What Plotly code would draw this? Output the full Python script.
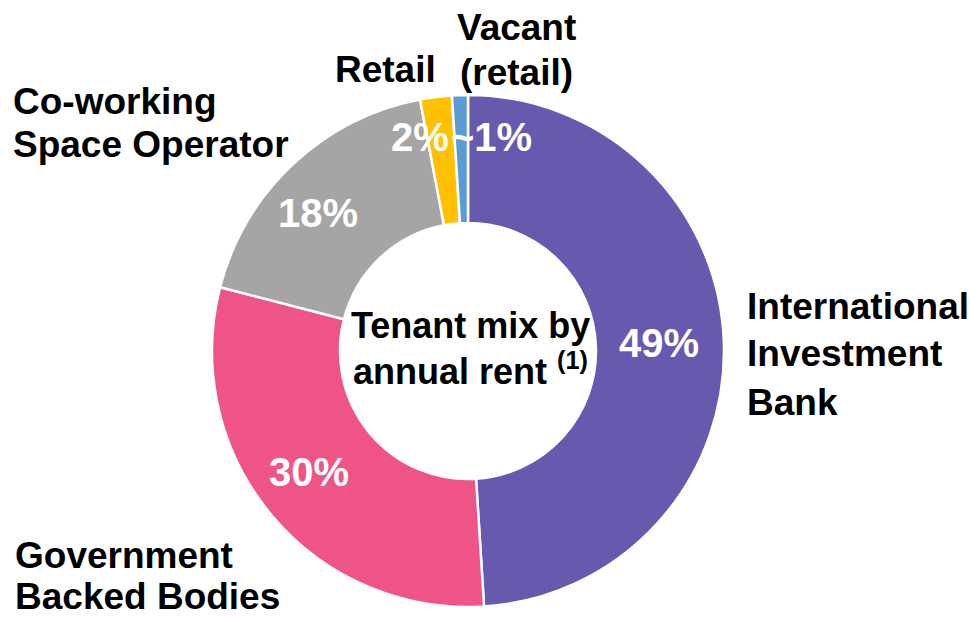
import plotly.graph_objects as go

W, H = 970, 617

tenants = ["International Investment Bank", "Government Backed Bodies",
           "Co-working Space Operator", "Retail", "Vacant (retail)"]
shares = [49, 30, 18, 2, 1]
pct_labels = ["49%", "30%", "18%", "2%", "~1%"]
colors = ["#6659AE", "#EF5486", "#A5A5A5", "#FFC000", "#5B9BD5"]

outer_labels = [["International", "Investment", "Bank"], ["Government", "Backed Bodies"],
                ["Co-working", "Space Operator"], ["Retail"], ["Vacant", "(retail)"]]
center_label = ["Tenant mix by", "annual rent <sup>(1)</sup>"]

fig = go.Figure(go.Pie(
    labels=tenants, values=shares, sort=False, direction="clockwise", rotation=0,
    hole=0.5, textinfo="none", hoverinfo="label+percent",
    marker=dict(colors=colors, line=dict(color="white", width=2.5)),
    domain=dict(x=[212 / W, 724 / W], y=[1 - 607 / H, 1 - 95 / H]),
    showlegend=False,
))


def px_ann(text, x, y, size, color="black", xanchor="center"):
    fig.add_annotation(text=text, x=x / W, y=1 - y / H, xref="paper", yref="paper",
                       xanchor=xanchor, yanchor="middle", showarrow=False,
                       font=dict(family="Liberation Sans, Arial", size=size, color=color))


# percentage labels on the ring
pct_pos = [(659, 343), (309, 472), (318, 213), (420, 137), (491, 137)]
for t, (x, y) in zip(pct_labels, pct_pos):
    px_ann(f"<b>{t}</b>", x, y, 40, color="white")

# outer labels, one annotation per line: (x, first line y, line gap, anchor)
lab_pos = [(745, 306, 48, "left"), (13, 555, 41, "left"), (11, 102, 42, "left"),
           (385, 70, 0, "center"), (516, 27, 45, "center")]
for lines, (x, y, gap, a) in zip(outer_labels, lab_pos):
    for i, t in enumerate(lines):
        px_ann(f"<b>{t}</b>", x, y + gap * i, 37, xanchor=a)

for i, t in enumerate(center_label):
    px_ann(f"<b>{t}</b>", 470, 325 + 44 * i, 36)

fig.update_layout(width=W, height=H, margin=dict(l=0, r=0, t=0, b=0),
                  paper_bgcolor="white", plot_bgcolor="white")
fig.write_html("out.html", config={"displayModeBar": False},
               post_script="document.body.style.margin='0';")
